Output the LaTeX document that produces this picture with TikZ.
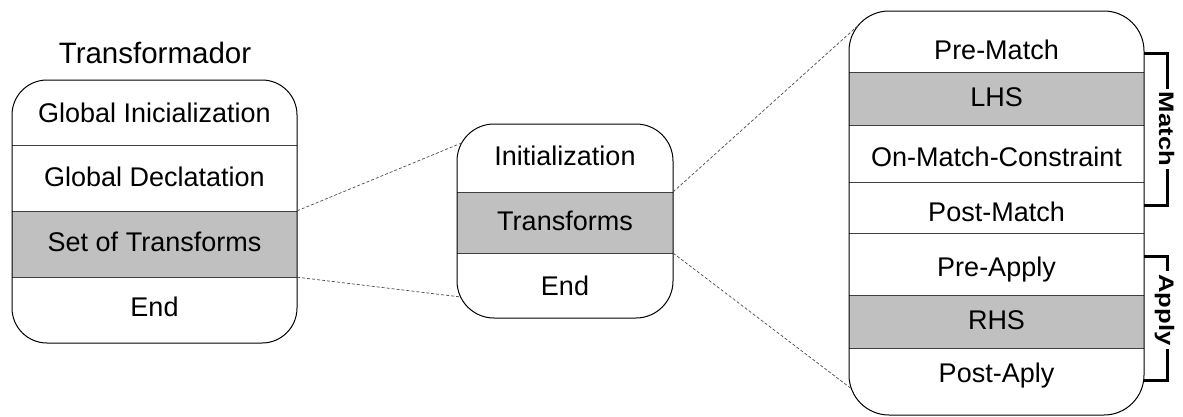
\documentclass[tikz,border=0pt]{standalone}
\usepackage{graphicx}
\usepackage{fontspec}
\setmainfont{Liberation Sans}
\definecolor{rowgray}{HTML}{C0C0C0}
\begin{document}
\begin{tikzpicture}[x=1pt,y=-1pt,
  frame/.style={draw=black, line width=1pt},
  divider/.style={draw=black!75, line width=0.9pt},
  shaded/.style={fill=rowgray, draw=none, inner sep=0pt},
  lbl/.style={anchor=base, inner sep=0pt, font=\fontsize{27}{32}\selectfont},
  title/.style={anchor=base, inner sep=0pt, font=\fontsize{29.5}{35}\selectfont},
  link/.style={draw=black!70, line width=0.7pt, dash pattern=on 3pt off 2pt},
  brk/.style={line width=3pt, line cap=butt, line join=miter},
  brlbl/.style={rotate=-90, anchor=base, fill=white, inner sep=3pt,
                font=\fontsize{21}{25}\selectfont\bfseries}]

\fill[white] (0,0) rectangle (1183,416);
\useasboundingbox (0,0) rectangle (1183,416);

% ---------- Transformador ----------
\node[shaded, minimum width=285pt, minimum height=66pt] (lset) at (154.5,244) {};
\foreach \yy in {145,211,277} \draw[divider] (12,\yy) -- (297,\yy);
\draw[frame, rounded corners=35pt] (12,80) rectangle (297,343);
\node[title] (ttl) at (155,63.3) {Transformador};
\node[lbl] (lgi) at (154.5,122)   {Global Inicialization};
\node[lbl] (lgd) at (154.5,186.7) {Global Declatation};
\node[lbl] (lst) at (154.5,251.7) {Set of Transforms};
\node[lbl] (lend) at (154.5,316.7) {End};

% ---------- Transform ----------
\node[shaded, minimum width=216pt, minimum height=61pt] (mtr) at (565,222.5) {};
\foreach \yy in {192,253} \draw[divider] (457,\yy) -- (673,\yy);
\draw[frame, rounded corners=37pt] (457,124) rectangle (673,318);
\node[lbl] (mini) at (565,165) {Initialization};
\node[lbl] (mtx)  at (565,230) {Transforms};
\node[lbl] (mend) at (565,295) {End};

% ---------- Rule parts ----------
\node[shaded, minimum width=295pt, minimum height=53pt] (rlhs) at (996.5,98.5) {};
\node[shaded, minimum width=295pt, minimum height=53pt] (rrhs) at (996.5,321.5) {};
\foreach \yy in {72,125,182,233,295,348} \draw[divider] (849,\yy) -- (1144,\yy);
\draw[frame, rounded corners=40pt] (849,11) rectangle (1144,415);
\node[lbl] (rpm)  at (996.5,59.3)  {Pre-Match};
\node[lbl] (rl)   at (996.5,106.7) {LHS};
\node[lbl] (romc) at (996.5,166.7) {On-Match-Constraint};
\node[lbl] (rpom) at (996.5,221.7) {Post-Match};
\node[lbl] (rpa)  at (996.5,276)   {Pre-Apply};
\node[lbl] (rr)   at (996.5,329.3) {RHS};
\node[lbl] (rpoa) at (996.5,382.7) {Post-Aply};

% ---------- zoom connectors ----------
\coordinate (mA) at (461.8,142.9);
\coordinate (mB) at (461,297);
\coordinate (rA) at (858.5,25.2);
\coordinate (rB) at (851.4,388.7);
\draw[link] (lset.north east) -- (mA);
\draw[link] (lset.south east) -- (mB);
\draw[link] (mtr.north east) -- (rA);
\draw[link] (mtr.south east) -- (rB);

% ---------- brackets ----------
\draw[brk] (1144,53) -| (1167,205) -- (1144,205);
\node[brlbl] (match) at (1159,129) {\scalebox{1.22}[1]{Match}};
\draw[brk] (1144,256) -| (1167,380) -- (1144,380);
\node[brlbl] (apply) at (1159,310) {\scalebox{1.22}[1]{Apply}};
\end{tikzpicture}
\end{document}
